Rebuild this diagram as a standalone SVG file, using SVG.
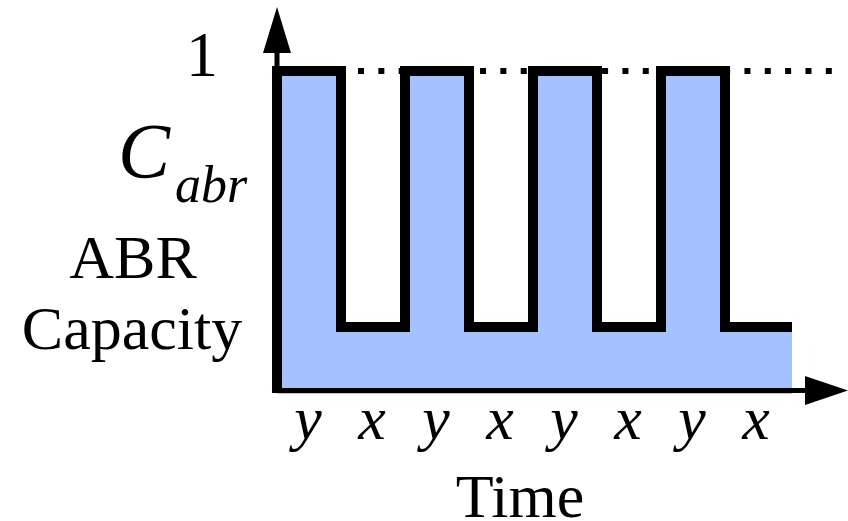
<svg xmlns="http://www.w3.org/2000/svg" width="848" height="521" viewBox="0 0 848 521">
<style>
.ax{stroke:#000;stroke-width:5;fill:none}
.wave{stroke:#000;stroke-width:10;fill:none;stroke-linejoin:miter;stroke-linecap:square}
</style>
<rect width="848" height="521" fill="#fff"/>
<g id="fill-area">
<polygon fill="#a4c2ff" points="277,71 341,71 341,327 405,327 405,71 469,71 469,327 533,327 533,71 597,71 597,327 661,327 661,71 725,71 725,327 792,327 792,394 277,394"/>
</g>
<g id="max-level">
<line x1="358" y1="71" x2="834" y2="71" stroke="#000" stroke-width="6" stroke-dasharray="6 14.34"/>
</g>
<g id="connectors">
<line class="ax" x1="277" y1="390.5" x2="277" y2="50"/>
<polygon points="277,7 263,53 291,53" fill="#000"/>
<line class="ax" x1="277" y1="390.5" x2="808" y2="390.5"/>
<polygon points="848,390.5 805,376 805,405" fill="#000"/>
</g>
<g id="waveform">
<polyline class="wave" points="277,388 277,71 341,71 341,327 405,327 405,71 469,71 469,327 533,327 533,71 597,71 597,327 661,327 661,71 725,71 725,327 787,327"/>
</g>
<g font-family="Liberation Serif, Times New Roman, Tinos, DejaVu Serif, serif" fill="#000">
<g id="y-labels">
<text x="186" y="76" font-size="64">1</text>
<text x="118" y="177" font-size="78" font-style="italic">C</text>
<text x="175" y="202" font-size="52" font-style="italic">abr</text>
<text x="133" y="278" font-size="62" text-anchor="middle">ABR</text>
<text x="132" y="349" font-size="62" text-anchor="middle">Capacity</text>
</g>
<g id="x-labels" font-style="italic" font-size="62" text-anchor="middle">
<text x="308" y="439">y</text>
<text x="372" y="439">x</text>
<text x="436" y="439">y</text>
<text x="500" y="439">x</text>
<text x="564" y="439">y</text>
<text x="628" y="439">x</text>
<text x="692" y="439">y</text>
<text x="756" y="439">x</text>
</g>
<g id="axis-title">
<text x="520" y="517" font-size="62" text-anchor="middle">Time</text>
</g>
</g>
</svg>
